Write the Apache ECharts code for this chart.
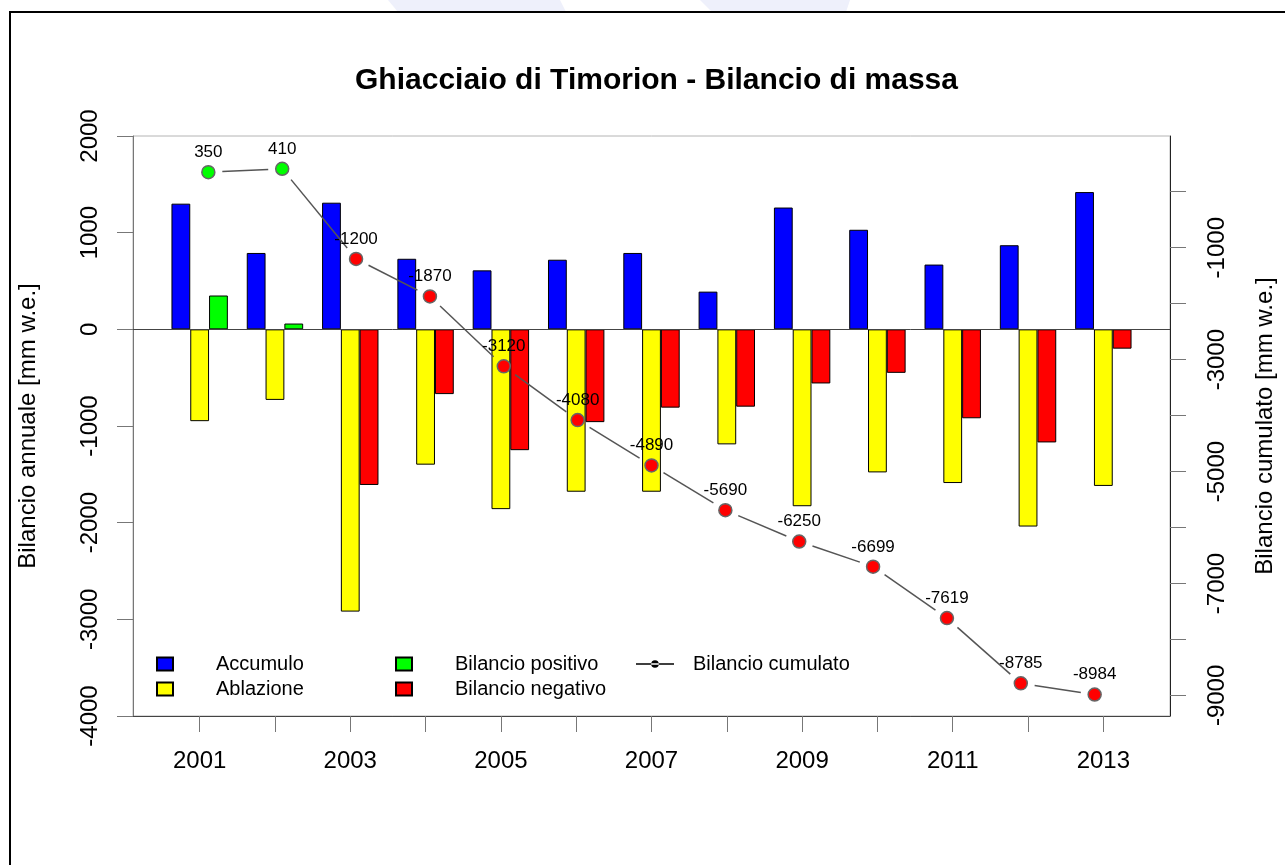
<!DOCTYPE html>
<html>
<head>
<meta charset="utf-8">
<title>Ghiacciaio di Timorion - Bilancio di massa</title>
<script src="https://cdn.jsdelivr.net/npm/echarts@6/dist/echarts.min.js"></script>
<style>
  html, body { margin: 0; padding: 0; background: #fff; }
  #main { width: 1285px; height: 865px; }
</style>
</head>
<body>
<div id="main"></div>
<script>
// dati
var anni = ['2001', '2002', '2003', '2004', '2005', '2006', '2007', '2008', '2009', '2010', '2011', '2012', '2013'];
var accumulo = [1300, 790, 1310, 730, 610, 720, 790, 390, 1260, 1030, 670, 870, 1420];
var ablazione = [-950, -730, -2920, -1400, -1860, -1680, -1680, -1190, -1830, -1480, -1590, -2040, -1620];
var bilancio = [350, 60, -1610, -670, -1250, -960, -810, -800, -560, -450, -920, -1170, -200];
var cumulato = [350, 410, -1200, -1870, -3120, -4080, -4890, -5690, -6250, -6699, -7619, -8785, -8984];
var tickCumulato = [0, -1000, -2000, -3000, -4000, -5000, -6000, -7000, -8000, -9000];
var labelCumulato = [-1000, -3000, -5000, -7000, -9000];

var font = 'Liberation Sans, Arial, Helvetica, sans-serif';

var myChart = echarts.init(document.getElementById('main'));

// punti del cumulato (x = 1..13) e segmenti tra punti consecutivi
var punti = cumulato.map(function (v, i) { return [i + 1, v]; });
var segmenti = [];
for (var i = 0; i < cumulato.length - 1; i++) {
    segmenti.push([i + 1, cumulato[i], i + 2, cumulato[i + 1]]);
}

function numero(v) { return String(v); }

var option = {
    animation: false,
    backgroundColor: '#fff',
    textStyle: { fontFamily: font },
    title: {
        text: 'Ghiacciaio di Timorion - Bilancio di massa',
        left: 651.5,
        top: 61,
        textAlign: 'center',
        textStyle: { fontSize: 30, fontWeight: 'bold', color: '#000', fontFamily: font }
    },
    legend: [
        {
            data: [{ name: 'Accumulo', icon: 'rect' }, { name: 'Ablazione', icon: 'rect' }],
            orient: 'vertical', left: 156, top: 654, padding: 0,
            itemWidth: 16, itemHeight: 13, itemGap: 5, selectedMode: false,
            textStyle: { fontSize: 20, lineHeight: 20, color: '#000', padding: [0, 0, 0, 38] }
        },
        {
            data: [{ name: 'Bilancio positivo', icon: 'rect' }, { name: 'Bilancio negativo', icon: 'rect' }],
            orient: 'vertical', left: 395, top: 654, padding: 0,
            itemWidth: 16, itemHeight: 13, itemGap: 5, selectedMode: false,
            textStyle: { fontSize: 20, lineHeight: 20, color: '#000', padding: [0, 0, 0, 38] }
        },
        {
            data: [{
                name: 'Bilancio cumulato',
                icon: 'path://M0,3.2L38,3.2L38,4.8L0,4.8Z M15.2,4A3.8,3.8,0,1,0,22.8,4A3.8,3.8,0,1,0,15.2,4Z',
                itemStyle: { color: '#000', borderWidth: 0, opacity: 1 }
            }],
            orient: 'vertical', left: 636, top: 654, padding: 0,
            itemWidth: 38, itemHeight: 8, selectedMode: false,
            itemStyle: { color: '#000', borderColor: '#000', borderWidth: 0, opacity: 1 },
            textStyle: { fontSize: 20, lineHeight: 20, color: '#000', padding: [0, 0, 0, 14] }
        }
    ],
    grid: [
        { left: 162, right: 144, top: 136, bottom: 149 },
        { left: 133, right: 115, top: 136, bottom: 149, show: true, borderColor: '#b4b4b4', borderWidth: 1 }
    ],
    xAxis: [
        {
            type: 'category', gridIndex: 0, data: anni,
            axisLine: { show: false, onZero: false },
            axisTick: { show: true, alignWithLabel: true, interval: 0, length: 16, lineStyle: { color: '#777' } },
            axisLabel: { interval: 1, margin: 33, fontSize: 24, color: '#000' },
            splitLine: { show: false }
        },
        {
            type: 'value', gridIndex: 1, min: -0.02, max: 14.02,
            axisLine: { show: true, onZero: false, lineStyle: { color: '#444' } },
            axisTick: { show: false }, axisLabel: { show: false }, splitLine: { show: false }
        }
    ],
    yAxis: [
        {
            type: 'value', gridIndex: 0, position: 'left', offset: 29,
            min: -4000, max: 2000, interval: 1000,
            axisLine: { show: true, lineStyle: { color: '#777' } },
            axisTick: { show: true, length: 16, lineStyle: { color: '#777' } },
            axisLabel: { rotate: 90, margin: 31, fontSize: 24, color: '#000', formatter: numero },
            splitLine: { show: false },
            name: 'Bilancio annuale [mm w.e.]', nameLocation: 'middle', nameRotate: 90, nameGap: 93,
            nameTextStyle: { fontSize: 24, color: '#000' }
        },
        {
            type: 'value', gridIndex: 1, position: 'right',
            min: -9368, max: 996,
            axisLine: { show: true, onZero: false, lineStyle: { color: '#222' } },
            axisTick: { show: true, length: 16, customValues: tickCumulato, lineStyle: { color: '#777' } },
            axisLabel: { rotate: 90, margin: 35, fontSize: 24, color: '#000', customValues: labelCumulato, formatter: numero },
            splitLine: { show: false },
            name: 'Bilancio cumulato [mm w.e.]', nameLocation: 'middle', nameRotate: 90, nameGap: 83,
            nameTextStyle: { fontSize: 24, color: '#000' }
        },
        {
            type: 'value', gridIndex: 1, min: -4000, max: 2000, show: false
        }
    ],
    series: [
        {
            name: 'Accumulo', type: 'bar', xAxisIndex: 0, yAxisIndex: 0,
            barWidth: 18.8, barGap: '0%',
            itemStyle: { color: '#0000ff', borderColor: '#000', borderWidth: 1 },
            data: accumulo
        },
        {
            name: 'Ablazione', type: 'bar', xAxisIndex: 0, yAxisIndex: 0,
            barWidth: 18.8,
            itemStyle: { color: '#ffff00', borderColor: '#000', borderWidth: 1 },
            data: ablazione
        },
        {
            name: 'Bilancio positivo', type: 'bar', xAxisIndex: 0, yAxisIndex: 0,
            stack: 'bil', barWidth: 18.8,
            itemStyle: { color: '#00ff00', borderColor: '#000', borderWidth: 1 },
            data: bilancio.map(function (v) { return v >= 0 ? v : null; })
        },
        {
            name: 'Bilancio negativo', type: 'bar', xAxisIndex: 0, yAxisIndex: 0,
            stack: 'bil', barWidth: 18.8,
            itemStyle: { color: '#ff0000', borderColor: '#000', borderWidth: 1 },
            data: bilancio.map(function (v) { return v < 0 ? v : null; })
        },
        {
            // linea dello zero su tutta la larghezza del riquadro
            name: 'zero', type: 'line', xAxisIndex: 1, yAxisIndex: 2,
            data: [], z: 3,
            markLine: {
                silent: true, symbol: 'none', label: { show: false },
                lineStyle: { color: '#444', width: 1, type: 'solid' },
                data: [{ yAxis: 0 }]
            }
        },
        {
            name: 'linea', type: 'custom', xAxisIndex: 1, yAxisIndex: 1, z: 4,
            encode: { x: [0, 2], y: [1, 3] },
            renderItem: function (params, api) {
                var a = api.coord([api.value(0), api.value(1)]);
                var b = api.coord([api.value(2), api.value(3)]);
                var dx = b[0] - a[0], dy = b[1] - a[1];
                var g = 14 / Math.sqrt(dx * dx + dy * dy);
                return {
                    type: 'line',
                    shape: { x1: a[0] + dx * g, y1: a[1] + dy * g, x2: b[0] - dx * g, y2: b[1] - dy * g },
                    style: { stroke: '#555', lineWidth: 1.5 }
                };
            },
            data: segmenti
        },
        {
            name: 'Bilancio cumulato', type: 'scatter', xAxisIndex: 1, yAxisIndex: 1, z: 5,
            symbol: 'circle', symbolSize: 13,
            itemStyle: {
                color: function (p) { return p.value[1] >= 0 ? '#00ff00' : '#ff0000'; },
                borderColor: '#666', borderWidth: 1.5, opacity: 1
            },
            label: {
                show: true, position: 'top', distance: 4, fontSize: 17, color: '#000',
                formatter: function (p) { return String(p.value[1]); }
            },
            data: punti
        }
    ],
    graphic: [
        { type: 'polygon', silent: true, z: -10, shape: { points: [[388, 0], [560, 0], [566, 12], [398, 12]] }, style: { fill: '#eef0fb' } },
        { type: 'polygon', silent: true, z: -10, shape: { points: [[700, 0], [850, 0], [846, 12], [712, 12]] }, style: { fill: '#eef0fb' } },
        { type: 'line', silent: true, shape: { x1: 9, y1: 12, x2: 1285, y2: 12 }, style: { stroke: '#000', lineWidth: 2 } },
        { type: 'line', silent: true, shape: { x1: 10, y1: 11, x2: 10, y2: 865 }, style: { stroke: '#000', lineWidth: 2 } }
    ]
};

myChart.setOption(option);
</script>
</body>
</html>
